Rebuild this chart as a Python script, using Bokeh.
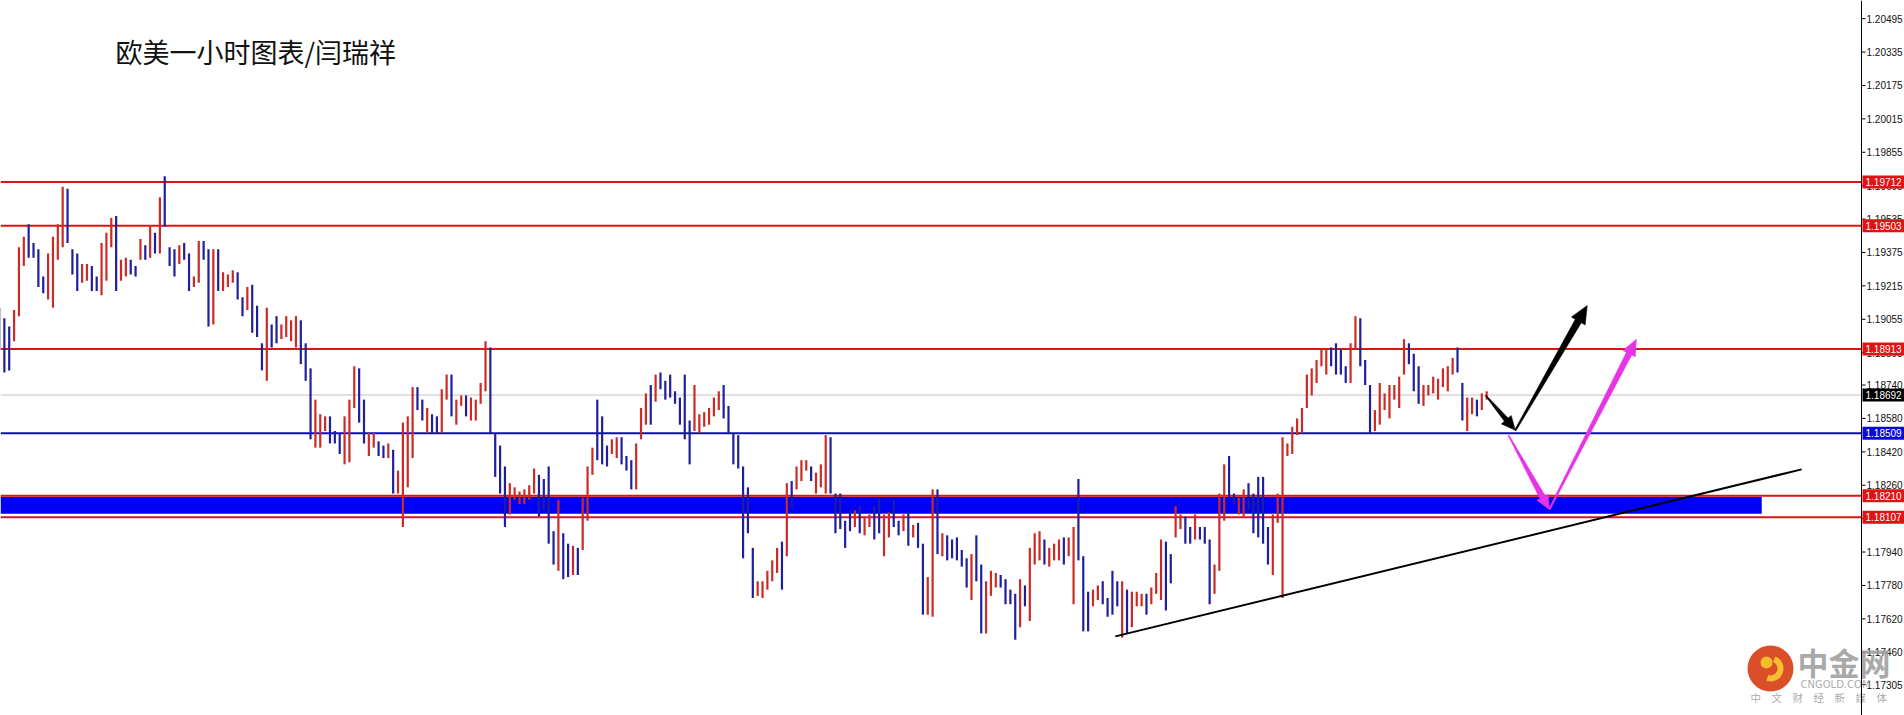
import math
from bokeh.plotting import figure
from bokeh.models import Range1d, Span, BoxAnnotation, ColumnDataSource
from bokeh.core.properties import value
from bokeh.embed import file_html
from bokeh.resources import INLINE

# ---------------- data (EURUSD, bars, 2 source bars per bar) -------------
title_text = "欧美一小时图表/闫瑞祥"

high_1 = [1.1911, 1.1906, 1.1902, 1.1910, 1.1940, 1.1945, 1.1951, 1.1942, 1.1939, 1.1926,
          1.1937, 1.1945, 1.1951, 1.1969, 1.1968, 1.1939, 1.1937, 1.1932, 1.1932, 1.1931,
          1.1926, 1.1942, 1.1947, 1.1954, 1.1955, 1.1934, 1.1935, 1.1934, 1.1931, 1.1944,
          1.1941, 1.1950, 1.1947, 1.1964, 1.1974, 1.1940, 1.1939, 1.1941, 1.1942, 1.1937,
          1.1926, 1.1943, 1.1943, 1.1939, 1.1939, 1.1939, 1.1928, 1.1927, 1.1929, 1.1928,
          1.1916, 1.1921, 1.1922, 1.1912, 1.1894, 1.1911, 1.1903, 1.1907, 1.1903, 1.1907,
          1.1905, 1.1907, 1.1905]
low_1 = [1.1891, 1.1880, 1.1881, 1.1895, 1.1907, 1.1931, 1.1935, 1.1935, 1.1921, 1.1918,
         1.1915, 1.1911, 1.1934, 1.1940, 1.1942, 1.1927, 1.1919, 1.1923, 1.1924, 1.1919,
         1.1919, 1.1917, 1.1924, 1.1940, 1.1919, 1.1924, 1.1926, 1.1927, 1.1926, 1.1934,
         1.1934, 1.1935, 1.1937, 1.1937, 1.1950, 1.1931, 1.1926, 1.1932, 1.1934, 1.1919,
         1.1921, 1.1923, 1.1934, 1.1902, 1.1903, 1.1919, 1.1919, 1.1921, 1.1923, 1.1915,
         1.1907, 1.1910, 1.1899, 1.1897, 1.1881, 1.1876, 1.1892, 1.1894, 1.1896, 1.1897,
         1.1895, 1.1892, 1.1884]
dir_1 = ("d d d u u u d d d d  u u u u d d d u u d  d u u u d u u d d u  d u d u d d d u d d  "
         "u u d d u d u u u d  d u d d d u d d u u  u u d").split()

high_2 = [1.1894, 1.1882, 1.1867, 1.1860, 1.1859, 1.1859, 1.1852, 1.1851, 1.1859, 1.1867,
          1.1883, 1.1882, 1.1867, 1.1851, 1.1851, 1.1847, 1.1845, 1.1846, 1.1843, 1.1833,
          1.1856, 1.1859, 1.1873, 1.1873, 1.1867, 1.1863, 1.1860, 1.1859, 1.1872, 1.1879,
          1.1879, 1.1867, 1.1869, 1.1869, 1.1868, 1.1867, 1.1875, 1.1895, 1.1892, 1.1851,
          1.1845, 1.1835, 1.1827, 1.1825, 1.1823, 1.1824, 1.1826, 1.1834, 1.1831, 1.1829,
          1.1835, 1.1804, 1.1819, 1.1803, 1.1798, 1.1797, 1.1796, 1.1820, 1.1835, 1.1844,
          1.1867, 1.1859, 1.1845, 1.1848]
low_2 = [1.1876, 1.1848, 1.1844, 1.1844, 1.1852, 1.1846, 1.1846, 1.1841, 1.1836, 1.1837,
         1.1863, 1.1856, 1.1846, 1.1840, 1.1844, 1.1840, 1.1839, 1.1839, 1.1822, 1.1822,
         1.1806, 1.1825, 1.1839, 1.1862, 1.1857, 1.1851, 1.1851, 1.1851, 1.1851, 1.1867,
         1.1859, 1.1855, 1.1864, 1.1859, 1.1857, 1.1857, 1.1865, 1.1871, 1.1851, 1.1830,
         1.1822, 1.1806, 1.1812, 1.1819, 1.1817, 1.1817, 1.1819, 1.1822, 1.1811, 1.1814,
         1.1798, 1.1788, 1.1785, 1.1781, 1.1782, 1.1783, 1.1783, 1.1795, 1.1809, 1.1831,
         1.1838, 1.1836, 1.1835, 1.1841]
dir_2 = ("d d u u u d d d u u  u d d u u d d u d u  u u u d d u d d u u  d u u d u u u u d d  "
         "d d u u u u u u d d  d d u d d u d u u u  d d d u").split()

high_3 = [1.1849, 1.1849, 1.1840, 1.1838, 1.1846, 1.1863, 1.1870, 1.1874, 1.1879, 1.1880,
          1.1876, 1.1879, 1.1871, 1.1868, 1.1879, 1.1857, 1.1874, 1.1860, 1.1861, 1.1863,
          1.1868, 1.1871, 1.1874, 1.1864, 1.1851, 1.1850, 1.1835, 1.1825, 1.1796, 1.1780,
          1.1780, 1.1785, 1.1790, 1.1796, 1.1799, 1.1827, 1.1828, 1.1835, 1.1838, 1.1838,
          1.1835, 1.1832, 1.1836, 1.1850, 1.1849, 1.1822, 1.1822, 1.1809, 1.1814, 1.1814,
          1.1816, 1.1811, 1.1812, 1.1816, 1.1820, 1.1812, 1.1813, 1.1819, 1.1809, 1.1812,
          1.1813]
low_3 = [1.1839, 1.1836, 1.1833, 1.1824, 1.1824, 1.1848, 1.1855, 1.1855, 1.1866, 1.1872,
         1.1867, 1.1868, 1.1865, 1.1855, 1.1848, 1.1836, 1.1852, 1.1851, 1.1854, 1.1855,
         1.1859, 1.1862, 1.1858, 1.1851, 1.1836, 1.1834, 1.1791, 1.1803, 1.1772, 1.1773,
         1.1772, 1.1776, 1.1780, 1.1784, 1.1776, 1.1792, 1.1815, 1.1824, 1.1828, 1.1833,
         1.1828, 1.1822, 1.1825, 1.1822, 1.1822, 1.1803, 1.1805, 1.1796, 1.1804, 1.1806,
         1.1803, 1.1802, 1.1806, 1.1800, 1.1803, 1.1792, 1.1801, 1.1806, 1.1802, 1.1804,
         1.1797]
dir_3 = ("u d d d u u u d u d  d d d d d d u u u u  u u d d d d d d d u  u u u u d u d u u u  "
         "d u u u d d d d d u  d u u d d u u d d u  d").split()

high_4 = [1.1807, 1.1808, 1.1798, 1.1782, 1.1824, 1.1824, 1.1803, 1.1802, 1.1800, 1.1801,
          1.1795, 1.1791, 1.1793, 1.1802, 1.1788, 1.1780, 1.1785, 1.1784, 1.1783, 1.1781,
          1.1776, 1.1774, 1.1781, 1.1778, 1.1796, 1.1803, 1.1804, 1.1800, 1.1796, 1.1798,
          1.1800, 1.1801, 1.1801, 1.1806, 1.1829, 1.1792, 1.1775, 1.1776, 1.1778, 1.1780,
          1.1772, 1.1785, 1.1780, 1.1780, 1.1776, 1.1775, 1.1775, 1.1774, 1.1774, 1.1777,
          1.1784, 1.1800, 1.1799, 1.1793, 1.1816, 1.1812, 1.1811, 1.1806, 1.1812, 1.1806,
          1.1806, 1.1800]
low_4 = [1.1801, 1.1796, 1.1764, 1.1764, 1.1763, 1.1793, 1.1792, 1.1790, 1.1791, 1.1790,
         1.1787, 1.1777, 1.1771, 1.1780, 1.1755, 1.1755, 1.1773, 1.1777, 1.1777, 1.1769,
         1.1769, 1.1752, 1.1758, 1.1768, 1.1761, 1.1788, 1.1790, 1.1788, 1.1787, 1.1790,
         1.1790, 1.1788, 1.1792, 1.1769, 1.1790, 1.1756, 1.1756, 1.1768, 1.1771, 1.1769,
         1.1763, 1.1764, 1.1768, 1.1753, 1.1755, 1.1758, 1.1768, 1.1768, 1.1764, 1.1769,
         1.1774, 1.1771, 1.1766, 1.1779, 1.1801, 1.1805, 1.1798, 1.1798, 1.1800, 1.1800,
         1.1798, 1.1769]
dir_4 = ("u d d u u d u d d d  d d u d d u u u d d  d d u d u u u d u u  u d u u d d d u u d  "
         "d d d u d u u u d u  u u d d u u d d u d  d d").split()

high_5 = [1.1788, 1.1822, 1.1836, 1.1840, 1.1822, 1.1820, 1.1824, 1.1827, 1.1822, 1.1830,
          1.1830, 1.1806, 1.1812, 1.1822, 1.1849, 1.1846, 1.1854, 1.1858, 1.1863, 1.1879,
          1.1882, 1.1886, 1.1891, 1.1891, 1.1892, 1.1894, 1.1891, 1.1883, 1.1894, 1.1907,
          1.1906, 1.1886, 1.1874, 1.1862, 1.1875, 1.1870, 1.1874, 1.1874, 1.1878, 1.1896,
          1.1894, 1.1889, 1.1883, 1.1874, 1.1874, 1.1878, 1.1877, 1.1882, 1.1883, 1.1887,
          1.1892, 1.1875, 1.1868, 1.1868, 1.1867, 1.1870, 1.1871]
low_5 = [1.1774, 1.1785, 1.1809, 1.1820, 1.1817, 1.1812, 1.1811, 1.1814, 1.1803, 1.1801,
         1.1798, 1.1788, 1.1783, 1.1808, 1.1772, 1.1840, 1.1841, 1.1850, 1.1851, 1.1863,
         1.1869, 1.1875, 1.1883, 1.1879, 1.1883, 1.1879, 1.1879, 1.1875, 1.1875, 1.1891,
         1.1883, 1.1874, 1.1851, 1.1852, 1.1855, 1.1862, 1.1858, 1.1867, 1.1863, 1.1879,
         1.1884, 1.1871, 1.1865, 1.1864, 1.1869, 1.1870, 1.1867, 1.1873, 1.1871, 1.1879,
         1.1880, 1.1857, 1.1852, 1.1860, 1.1859, 1.1862, 1.1867]
dir_5 = ("u u u d d u u d d d  d d u u u u u u u u  u u u u d d d d u u  d d d u u u u u u u  "
         "d d d u u u u u u u  d d u u d u u").split()

resistance_levels = [1.19712, 1.19503, 1.18913]
zone_levels = [1.18210, 1.18107]
support_level = 1.18509
last_price = 1.18692
zone_top, zone_bottom = 1.18205, 1.18124
zone_end_bar = 362.6
trend_bar = [229.6, 370.8]
trend_price = [1.17536, 1.18336]
black_path_bar = [305.8, 311.9, 326.7]
black_path_price = [1.18690, 1.18523, 1.19121]
magenta_path_bar = [310.5, 318.9, 336.8]
magenta_path_price = [1.18499, 1.18144, 1.18959]
tick_values = [1.20495, 1.20335, 1.20175, 1.20015, 1.19855, 1.19695, 1.19535, 1.19375,
               1.19215, 1.19055, 1.18895, 1.18740, 1.18580, 1.18420, 1.18260, 1.18100,
               1.17940, 1.17780, 1.17620, 1.17460, 1.17305]

# ---------------- assemble bars ----------------
high, low, direction = [], [], []
for h, l, d in [(high_1, low_1, dir_1), (high_2, low_2, dir_2), (high_3, low_3, dir_3),
                (high_4, low_4, dir_4), (high_5, low_5, dir_5)]:
    n = min(len(h), len(l), len(d))
    high += h[:n]
    low += l[:n]
    direction += d[:n]

UP_COLOR = "#cc2b25"
DOWN_COLOR = "#1f1f9c"
RED = "#e01212"
BLUE_LINE = "#0b0bc4"
ZONE = "#0000f4"
GRAY = "#c4c4c4"
MAGENTA = "#e633e6"

src = ColumnDataSource(dict(
    x=list(range(len(high))), high=high, low=low,
    color=[UP_COLOR if d == "u" else DOWN_COLOR for d in direction]))

# ---------------- figure geometry (frame fills the whole page) ----------------
W, H = 1904, 715
BAR_PX = 4.86            # pixel pitch of one bar
X0 = 1 / BAR_PX
X1 = X0 + W / BAR_PX
Y1 = 1.20582
Y0 = 1.17157
SX = W / (X1 - X0)
SY = H / (Y1 - Y0)


def px_x(page_x):
    return X0 + page_x / SX


def px_y(page_y):
    return Y1 - page_y / SY


p = figure(width=W, height=H, x_range=Range1d(X0, X1), y_range=Range1d(Y0, Y1),
           output_backend="svg", toolbar_location=None,
           x_axis_location=None, y_axis_location=None,
           min_border_left=0, min_border_right=0, min_border_top=0, min_border_bottom=0)
p.grid.visible = False
p.outline_line_color = None
p.background_fill_color = "white"
p.border_fill_color = "white"

AXIS_X = px_x(1861)

# support zone box
p.add_layout(BoxAnnotation(right=zone_end_bar, top=zone_top, bottom=zone_bottom,
                           fill_color=ZONE, fill_alpha=1.0, line_color=None, level="underlay"))

# horizontal levels (drawn up to the price axis)
p.segment(x0=[X0], y0=[last_price], x1=[AXIS_X], y1=[last_price], line_color=GRAY, line_width=1)
lvls = resistance_levels + zone_levels
p.segment(x0=[X0] * len(lvls), y0=lvls, x1=[AXIS_X] * len(lvls), y1=lvls,
          line_color=RED, line_width=2)
p.segment(x0=[X0], y0=[support_level], x1=[AXIS_X], y1=[support_level],
          line_color=BLUE_LINE, line_width=2)

# price bars
p.segment(x0="x", y0="low", x1="x", y1="high", line_color="color", line_width=2.2, source=src)

# trend line
p.line(trend_bar, trend_price, line_color="black", line_width=2)


def arrow_patch(bx0, py0, bx1, py1, w0, w1, head_len, head_w, color):
    ax, ay = bx0 * SX, py0 * SY
    bx, by = bx1 * SX, py1 * SY
    dx, dy = bx - ax, by - ay
    L = math.hypot(dx, dy)
    ux, uy = dx / L, dy / L
    nx, ny = -uy, ux
    hx, hy = bx - ux * head_len, by - uy * head_len
    pts = [(ax + nx * w0 / 2, ay + ny * w0 / 2), (hx + nx * w1 / 2, hy + ny * w1 / 2),
           (hx + nx * head_w / 2, hy + ny * head_w / 2), (bx, by),
           (hx - nx * head_w / 2, hy - ny * head_w / 2), (hx - nx * w1 / 2, hy - ny * w1 / 2),
           (ax - nx * w0 / 2, ay - ny * w0 / 2)]
    p.patch([q[0] / SX for q in pts], [q[1] / SY for q in pts],
            fill_color=color, line_color=color, line_width=0.5)


arrow_patch(black_path_bar[0], black_path_price[0], black_path_bar[1], black_path_price[1],
            1.0, 5.0, 14, 13, "black")
arrow_patch(black_path_bar[1], black_path_price[1], black_path_bar[2], black_path_price[2],
            1.5, 7.0, 18, 16, "black")
arrow_patch(magenta_path_bar[0], magenta_path_price[0], magenta_path_bar[1], magenta_path_price[1],
            1.0, 6.0, 14, 13, MAGENTA)
arrow_patch(magenta_path_bar[1], magenta_path_price[1], magenta_path_bar[2], magenta_path_price[2],
            1.5, 6.0, 16, 14, MAGENTA)

# ---------------- price axis on the right ----------------
p.add_layout(Span(location=AXIS_X, dimension="height", line_color="black", line_width=1))
nt = len(tick_values)
p.segment(x0=[AXIS_X] * nt, y0=tick_values, x1=[px_x(1865)] * nt, y1=tick_values,
          line_color="black", line_width=1)
p.text(x=[px_x(1866)] * nt, y=tick_values, text=[f"{t:.5f}" for t in tick_values],
       text_font=value("Liberation Sans"), text_font_size=value("10px"),
       text_color="#111111", text_baseline="middle", text_align="left")

# price tags on the axis
tag_levels = resistance_levels + zone_levels + [last_price, support_level]
tag_colors = [RED] * len(resistance_levels + zone_levels) + ["#000000", "#0a0ad8"]
half_h = 6.5 / SY
p.quad(left=[px_x(1862)] * len(tag_levels), right=[px_x(1904)] * len(tag_levels),
       top=[t + half_h for t in tag_levels], bottom=[t - half_h for t in tag_levels],
       fill_color=tag_colors, line_color=None)
p.text(x=[px_x(1865)] * len(tag_levels), y=tag_levels, text=[f"{t:.5f}" for t in tag_levels],
       text_font=value("Liberation Sans"), text_font_size=value("10px"),
       text_color="white", text_baseline="middle", text_align="left")

# ---------------- title ----------------
p.text(x=[px_x(115)], y=[px_y(51)], text=[title_text], text_font=value("Noto Sans CJK SC"),
       text_font_size=value("27px"), text_color="#111111", text_baseline="middle",
       text_align="left")

# ---------------- watermark (logo) ----------------
wx, wy = px_x(1770), px_y(668)
p.scatter([wx], [wy], size=46, fill_color="#d8441e", line_color=None, fill_alpha=0.95)
p.annular_wedge([wx], [wy], inner_radius=7, outer_radius=13, start_angle=-1.9, end_angle=1.2,
                inner_radius_units="screen", outer_radius_units="screen",
                fill_color="#f6be2e", line_color=None)
p.scatter([px_x(1766)], [px_y(662)], size=12, fill_color="#f6be2e", line_color=None)
p.text(x=[px_x(1797)], y=[px_y(661)], text=["中金网"], text_font=value("Noto Sans CJK SC"),
       text_font_size=value("31px"), text_font_style="bold", text_color="#9a9a9a",
       text_alpha=0.85, text_baseline="middle", text_align="left")
p.text(x=[px_x(1800)], y=[px_y(684)], text=["CNGOLD.COM"], text_font=value("DejaVu Sans"),
       text_font_size=value("10px"), text_color="#a0a0a0", text_alpha=0.9,
       text_baseline="middle", text_align="left")
p.text(x=[px_x(1750)], y=[px_y(697)], text=["\u2003".join("中文财经新媒体")],
       text_font=value("Noto Sans CJK SC"), text_font_size=value("10.5px"),
       text_color="#a0a0a0", text_alpha=0.9, text_baseline="middle", text_align="left")

open("out.html", "w").write(file_html(p, INLINE))
